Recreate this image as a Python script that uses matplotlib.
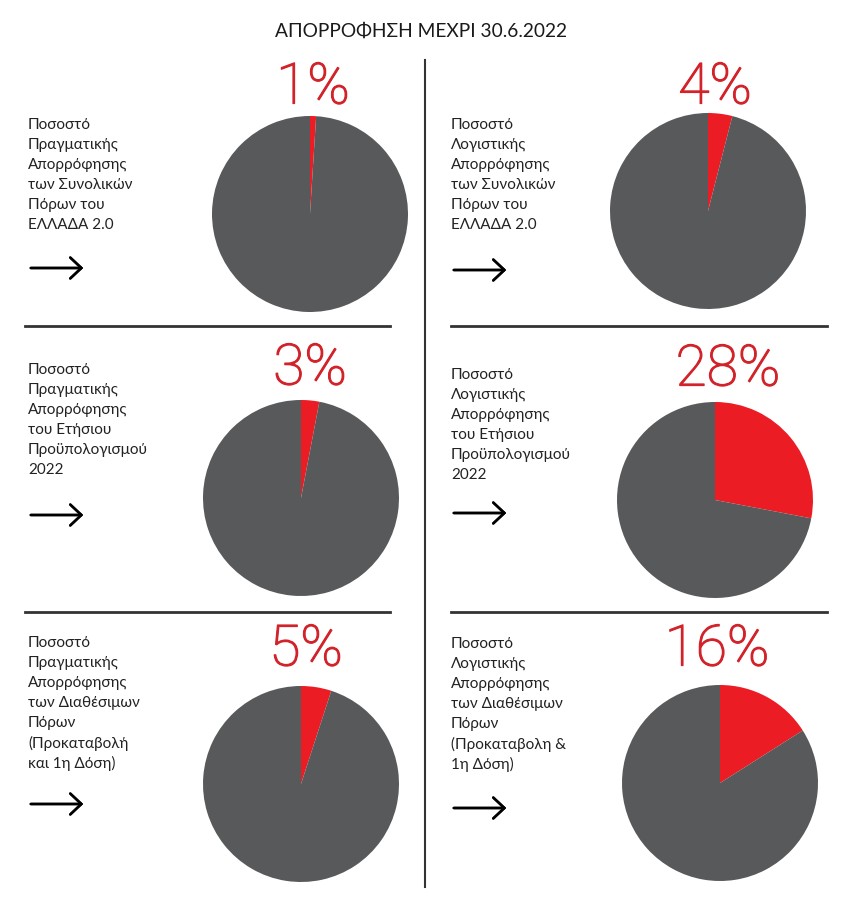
import matplotlib.pyplot as plt
import matplotlib.patheffects as pe
from matplotlib.lines import Line2D

# Data
title = "ΑΠΟΡΡΟΦΗΣΗ ΜΕΧΡΙ 30.6.2022"
left_pct = [1, 3, 5]
right_pct = [4, 28, 16]
left_labels = [
    ["Ποσοστό", "Πραγματικής", "Απορρόφησης", "των Συνολικών", "Πόρων του", "ΕΛΛΑΔΑ 2.0"],
    ["Ποσοστό", "Πραγματικής", "Απορρόφησης", "του Ετήσιου", "Προϋπολογισμού", "2022"],
    ["Ποσοστό", "Πραγματικής", "Απορρόφησης", "των Διαθέσιμων", "Πόρων", "(Προκαταβολή", "και 1η Δόση)"],
]
right_labels = [
    ["Ποσοστό", "Λογιστικής", "Απορρόφησης", "των Συνολικών", "Πόρων του", "ΕΛΛΑΔΑ 2.0"],
    ["Ποσοστό", "Λογιστικής", "Απορρόφησης", "του Ετήσιου", "Προϋπολογισμού", "2022"],
    ["Ποσοστό", "Λογιστικής", "Απορρόφησης", "των Διαθέσιμων", "Πόρων", "(Προκαταβολη &", "1η Δόση)"],
]

RED = "#ec1c24"
RED_TXT = "#d2232a"
GREY = "#58595b"
W, H = 868, 900

fig = plt.figure(figsize=(W / 100, H / 100), dpi=100)
plt.rcParams['font.family'] = ['Lato', 'DejaVu Sans']


def fx(x):
    return x / W


def fy(y):
    return 1 - y / H


# layout in pixels (center x, center y) for each panel
pie_pos = {("L", 0): (310, 214), ("R", 0): (708, 211),
           ("L", 1): (301, 498), ("R", 1): (715, 500),
           ("L", 2): (301, 784), ("R", 2): (720, 783)}
pct_pos = {("L", 0): (313, 88), ("R", 0): (715, 88),
           ("L", 1): (310, 369), ("R", 1): (728, 370),
           ("L", 2): (306, 650), ("R", 2): (717, 650)}
text_top = {("L", 0): 125, ("R", 0): 125,
            ("L", 1): 370, ("R", 1): 375,
            ("L", 2): 643, ("R", 2): 644}
arrow_y = {("L", 0): 268, ("R", 0): 270,
           ("L", 1): 515, ("R", 1): 513,
           ("L", 2): 804, ("R", 2): 808}
text_x = {"L": 28, "R": 451}
r = 98

fig.text(fx(421), fy(31), title, ha='center', va='center', fontsize=13.8, color="#1a1a1a")

for side, pcts, labels in [("L", left_pct, left_labels), ("R", right_pct, right_labels)]:
    for i in range(3):
        key = (side, i)
        cx, cy = pie_pos[key]
        ax = fig.add_axes([fx(cx - r), fy(cy + r), 2 * r / W, 2 * r / H])
        ax.pie([pcts[i], 100 - pcts[i]], colors=[RED, GREY], startangle=90,
               counterclock=False, radius=1.0)
        ax.set_xlim(-1, 1)
        ax.set_ylim(-1, 1)
        ax.set_aspect('auto')
        ax.axis('off')

        px, py = pct_pos[key]
        fig.text(fx(px), fy(py), f"{pcts[i]}%", ha='center', va='center',
                 fontsize=41, color=RED_TXT, family=['Roboto', 'DejaVu Sans'],
                 fontweight='light',
                 path_effects=[pe.withStroke(linewidth=0.9, foreground=RED_TXT)])

        for j, line in enumerate(labels[i]):
            fig.text(fx(text_x[side]), fy(text_top[key] + 20 * j), line,
                     ha='left', va='center', fontsize=11, color="#222222")

        ay = arrow_y[key]
        x0 = text_x[side]
        fig.add_artist(plt.annotate("", xy=(fx(x0 + 58), fy(ay)), xytext=(fx(x0), fy(ay)),
                                    xycoords='figure fraction', textcoords='figure fraction',
                                    arrowprops=dict(arrowstyle='->,head_length=0.8,head_width=0.75',
                                                    lw=1.8, color='black')))

# divider lines
fig.add_artist(Line2D([fx(425), fx(425)], [fy(60), fy(887)], color="#333333", lw=1.5))
for y in [326, 612]:
    fig.add_artist(Line2D([fx(25), fx(390)], [fy(y), fy(y)], color="#333333", lw=2))
    fig.add_artist(Line2D([fx(451), fx(827)], [fy(y), fy(y)], color="#333333", lw=2))

fig.savefig("out.png", dpi=100, facecolor="white")
